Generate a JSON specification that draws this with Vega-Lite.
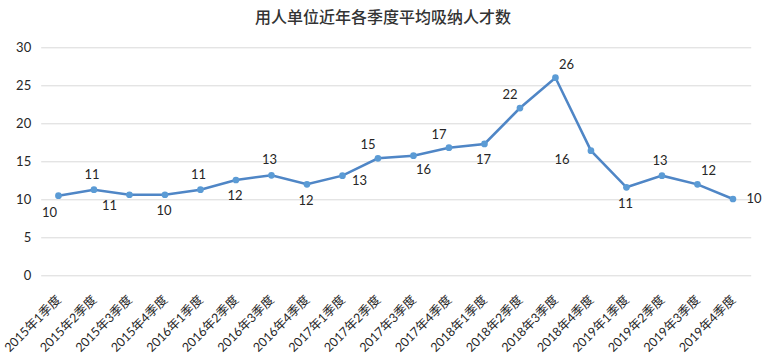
{
  "$schema": "https://vega.github.io/schema/vega-lite/v6.json",
  "width": 710,
  "height": 228,
  "autosize": {"type": "none"},
  "padding": {"left": 40.7, "top": 47.3, "right": 16.3, "bottom": 79.7},
  "background": "white",
  "title": {
    "text": "用人单位近年各季度平均吸纳人才数",
    "font": "Noto Sans CJK SC",
    "fontSize": 16,
    "fontWeight": 500,
    "color": "#333333",
    "anchor": "middle",
    "dx": -12.7,
    "offset": 15
  },
  "config": {
    "view": {"stroke": null},
    "font": "Lato, Noto Sans CJK SC"
  },
  "data": {
    "values": [
      {"quarter": "2015年1季度", "value": 10.47, "label": "10", "pos": "belowLeft"},
      {"quarter": "2015年2季度", "value": 11.26, "label": "11", "pos": "above"},
      {"quarter": "2015年3季度", "value": 10.6, "label": "11", "pos": "leftBelow"},
      {"quarter": "2015年4季度", "value": 10.6, "label": "10", "pos": "below"},
      {"quarter": "2016年1季度", "value": 11.26, "label": "11", "pos": "above"},
      {"quarter": "2016年2季度", "value": 12.54, "label": "12", "pos": "below"},
      {"quarter": "2016年3季度", "value": 13.16, "label": "13", "pos": "above"},
      {"quarter": "2016年4季度", "value": 11.97, "label": "12", "pos": "below"},
      {"quarter": "2017年1季度", "value": 13.11, "label": "13", "pos": "rightBelow"},
      {"quarter": "2017年2季度", "value": 15.39, "label": "15", "pos": "aboveLeft"},
      {"quarter": "2017年3季度", "value": 15.74, "label": "16", "pos": "belowRight"},
      {"quarter": "2017年4季度", "value": 16.79, "label": "17", "pos": "aboveLeft"},
      {"quarter": "2018年1季度", "value": 17.28, "label": "17", "pos": "below"},
      {"quarter": "2018年2季度", "value": 22.01, "label": "22", "pos": "aboveLeft"},
      {"quarter": "2018年3季度", "value": 26.0, "label": "26", "pos": "aboveRight"},
      {"quarter": "2018年4季度", "value": 16.4, "label": "16", "pos": "left"},
      {"quarter": "2019年1季度", "value": 11.58, "label": "11", "pos": "below"},
      {"quarter": "2019年2季度", "value": 13.11, "label": "13", "pos": "above"},
      {"quarter": "2019年3季度", "value": 11.97, "label": "12", "pos": "aboveRight"},
      {"quarter": "2019年4季度", "value": 10.04, "label": "10", "pos": "right"}
    ]
  },
  "encoding": {
    "x": {
      "field": "quarter",
      "type": "ordinal",
      "sort": null,
      "scale": {"type": "point", "padding": 0.5},
      "axis": {
        "title": null,
        "labelAngle": -45,
        "labelAlign": "right",
        "labelBaseline": "middle",
        "labelPadding": 22,
        "labelFont": "Lato, Noto Sans CJK SC",
        "labelFontSize": 12.5,
        "labelColor": "#262626",
        "ticks": false,
        "domain": false,
        "grid": false
      }
    },
    "y": {
      "field": "value",
      "type": "quantitative",
      "scale": {"domain": [0, 30], "nice": false},
      "axis": {
        "title": null,
        "values": [0, 5, 10, 15, 20, 25, 30],
        "labelFont": "Lato, Noto Sans CJK SC",
        "labelFontSize": 13,
        "labelColor": "#262626",
        "labelPadding": 10,
        "ticks": false,
        "domain": false,
        "grid": true,
        "gridColor": "#D9D9D9",
        "gridWidth": 1
      }
    }
  },
  "layer": [
    {"mark": {"type": "line", "color": "#4F86C6", "strokeWidth": 2.5}},
    {"mark": {"type": "point", "filled": true, "opacity": 1, "color": "#5B9BD5", "size": 45}},
    {"transform": [{"filter": "datum.pos == 'below'"}], "mark": {"type": "text", "fontSize": 13, "color": "#262626", "dx": -1, "dy": 16.5}, "encoding": {"text": {"field": "label"}}},
    {"transform": [{"filter": "datum.pos == 'belowLeft'"}], "mark": {"type": "text", "fontSize": 13, "color": "#262626", "dx": -9, "dy": 17}, "encoding": {"text": {"field": "label"}}},
    {"transform": [{"filter": "datum.pos == 'leftBelow'"}], "mark": {"type": "text", "fontSize": 13, "color": "#262626", "dx": -20, "dy": 11}, "encoding": {"text": {"field": "label"}}},
    {"transform": [{"filter": "datum.pos == 'above'"}], "mark": {"type": "text", "fontSize": 13, "color": "#262626", "dx": -2, "dy": -15}, "encoding": {"text": {"field": "label"}}},
    {"transform": [{"filter": "datum.pos == 'aboveLeft'"}], "mark": {"type": "text", "fontSize": 13, "color": "#262626", "dx": -10, "dy": -13}, "encoding": {"text": {"field": "label"}}},
    {"transform": [{"filter": "datum.pos == 'aboveRight'"}], "mark": {"type": "text", "fontSize": 13, "color": "#262626", "dx": 11, "dy": -13}, "encoding": {"text": {"field": "label"}}},
    {"transform": [{"filter": "datum.pos == 'rightBelow'"}], "mark": {"type": "text", "fontSize": 13, "color": "#262626", "dx": 17, "dy": 5}, "encoding": {"text": {"field": "label"}}},
    {"transform": [{"filter": "datum.pos == 'belowRight'"}], "mark": {"type": "text", "fontSize": 13, "color": "#262626", "dx": 10, "dy": 14}, "encoding": {"text": {"field": "label"}}},
    {"transform": [{"filter": "datum.pos == 'right'"}], "mark": {"type": "text", "fontSize": 13, "color": "#262626", "dx": 21, "dy": 0}, "encoding": {"text": {"field": "label"}}},
    {"transform": [{"filter": "datum.pos == 'left'"}], "mark": {"type": "text", "fontSize": 13, "color": "#262626", "dx": -29, "dy": 9}, "encoding": {"text": {"field": "label"}}}
  ]
}
